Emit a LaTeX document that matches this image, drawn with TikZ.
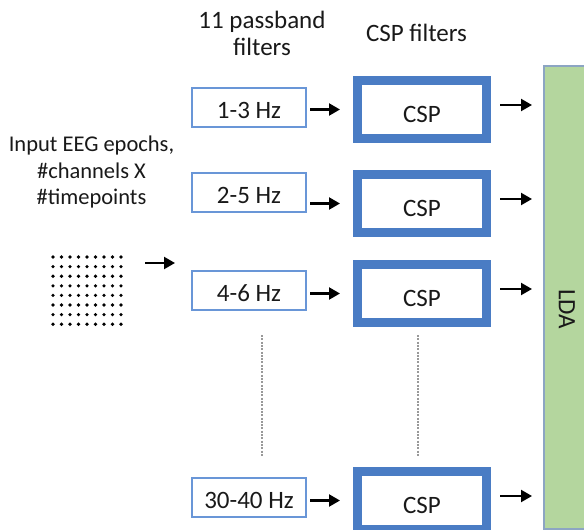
\documentclass[tikz,border=0pt]{standalone}
\usepackage{fontspec}
\setmainfont{Carlito}
\usetikzlibrary{positioning,arrows.meta}
\definecolor{filtblue}{RGB}{105,150,215}
\definecolor{cspblue}{RGB}{74,124,196}
\definecolor{ldagreen}{RGB}{180,214,158}
\definecolor{ldaedge}{RGB}{140,165,195}
\definecolor{txt}{RGB}{25,25,25}

\begin{document}
\begin{tikzpicture}[x=1pt,y=-1pt,
    every node/.style={font=\fontsize{25}{27}\selectfont,text=txt},
    filt/.style={draw=filtblue,line width=2pt,minimum width=114pt,minimum height=39pt,inner sep=0pt,text height=22pt,text depth=0pt},
    csp/.style={draw=cspblue,line width=9pt,minimum width=129pt,minimum height=58pt,inner sep=0pt,text height=25pt,text depth=0pt},
    lda/.style={draw=ldaedge,fill=ldagreen,line width=1.5pt,inner sep=0pt},
    arr/.style={-{Triangle[length=11pt,width=12pt]},line width=2.2pt,black},
    vdots/.style={gray!80,line width=1.5pt,dash pattern=on 2pt off 1.3pt}]
  \clip (0,0) rectangle (584,530);

  % filter bank
  \node[filt] (f1) at (249,107) {1-3 Hz};
  \node[filt] (f2) at (249,192.5) {2-5 Hz};
  \node[filt] (f3) at (249,290.5) {4-6 Hz};
  \node[filt] (f4) at (249,497.5) {30-40 Hz};

  % csp per band
  \node[csp,right=46pt of f1,yshift=-2.5pt] (c1) {CSP};
  \node[csp,right=46pt of f2,yshift=-11pt] (c2) {CSP};
  \node[csp,right=46pt of f3,yshift=-3pt] (c3) {CSP};
  \node[csp,right=46pt of f4,yshift=-3pt] (c4) {CSP};

  \node[lda,anchor=north west,minimum width=60pt,minimum height=463pt] (lda) at (543,65) {};
  \node[rotate=-90] (ldatxt) at (567,309) {LDA};

  % headings
  \node[align=center] (hdf) at (262,33) {11 passband\\filters};
  \node (hdc) at (416.5,33) {CSP filters};
  \node[align=center,font=\fontsize{22.5}{26.5}\selectfont] (inp) at (91.5,172)
    {Input EEG epochs,\\\#channels X\\\#timepoints};

  % epoch matrix
  \foreach \i in {0,...,8}
    \foreach \j in {0,...,7}
      \fill[black] (53+8.5*\i,257+9.6*\j) circle (1.8);
  \coordinate (ina) at (145,263);
  \coordinate (inb) at (175,263);
  \draw[arr] (ina) -- (inb);

  \foreach \k in {1,...,4}{
    \draw[arr] ([xshift=3pt]f\k.east |- c\k.west) -- ([xshift=-13pt]c\k.west);
    \draw[arr] ([xshift=9pt,yshift=4.5pt]c\k.east) -- ([xshift=-11pt,yshift=4.5pt]c\k.east -| lda.west);
  }

  \draw[vdots] ([xshift=13pt,yshift=-24pt]f3.south) -- ([xshift=13pt,yshift=20pt]f4.north);
  \draw[vdots] ([xshift=-4pt,yshift=-8pt]c3.south) -- ([xshift=-4pt,yshift=10pt]c4.north);
\end{tikzpicture}
\end{document}
